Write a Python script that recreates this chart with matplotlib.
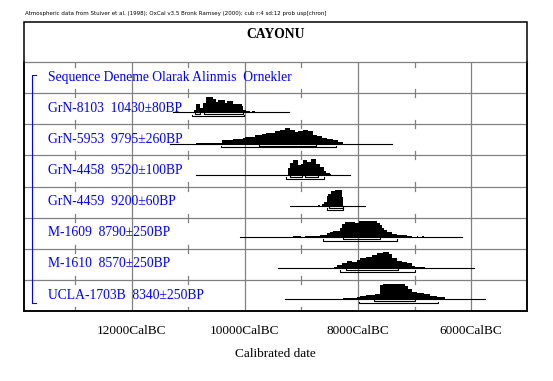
import numpy as np
import matplotlib
matplotlib.use('Agg')
import matplotlib.pyplot as plt
from matplotlib.patches import Rectangle
import matplotlib.transforms as mtransforms

# sample labels, top row first
header = 'Sequence Deneme Olarak Alinmis  Ornekler'
labels = ['GrN-8103  10430\u00b180BP', 'GrN-5953  9795\u00b1260BP',
          'GrN-4458  9520\u00b1100BP', 'GrN-4459  9200\u00b160BP',
          'M-1609  8790\u00b1250BP', 'M-1610  8570\u00b1250BP',
          'UCLA-1703B  8340\u00b1250BP']

# calibrated probability (step edges in years BC, relative heights)
grn8103_years = [10900, 10870, 10800, 10740, 10690, 10560, 10510, 10470, 10350,
                 10310, 10210, 10120, 10060, 10030, 9980, 9910, 9880, 9820]
grn8103_prob = [2, 7.7, 4.3, 9, 15, 12.7, 10, 11.7, 9.3, 10.7, 7.7, 8.3, 6,
                2.7, 1.7, 0, 1]

grn5953_years = [10870, 10400, 10210, 10030, 10000, 9820, 9700, 9620, 9470, 9380,
                 9290, 9200, 9120, 9060, 8970, 8880, 8790, 8730, 8640, 8550,
                 8440, 8350, 8260]
grn5953_prob = [1, 3.3, 4.3, 6, 6.5, 8.3, 10, 11.3, 13, 14.3, 16, 14.3, 11.7,
                12.7, 13.7, 12.7, 9.3, 7.7, 6, 4.3, 3.3, 2]

grn4458_years = [9230, 9200, 9150, 9060, 9010, 8970, 8900, 8840, 8740, 8670,
                 8610, 8570, 8500, 8470]
grn4458_prob = [6.7, 11, 14.3, 9, 10, 14.5, 12, 15, 10, 7, 4, 2, 1]

grn4459_years = [8700, 8670, 8640, 8610, 8550, 8530, 8470, 8410, 8290, 8270]
grn4459_prob = [1, 0, 2, 4, 9, 11, 14, 15, 8]

m1609_years = [9150, 9000, 8940, 8670, 8640, 8550, 8500, 8440, 8320, 8290, 8230,
               8050, 7990, 7670, 7610, 7580, 7540, 7490, 7400, 7310, 7230,
               7140, 7050, 6960, 6930, 6870, 6840]
m1609_prob = [1, 0.3, 1, 1.5, 2.3, 4, 5, 6, 9, 14, 15.3, 14.5, 16.3, 15, 12, 9,
              7, 5, 3.5, 2.5, 2, 1, 0, 1, 0, 0.7]

m1610_years = [8420, 8380, 8290, 8200, 8110, 8020, 7960, 7850, 7760, 7670, 7550,
               7460, 7400, 7310, 7230, 7140, 7050, 6990, 6810]
m1610_prob = [1, 3, 5, 7.3, 5.7, 8, 10.3, 11.3, 13, 14.7, 15.3, 13.7, 10.3, 7,
              6, 4.7, 2.3, 1]

ucla1703b_years = [8260, 8020, 7960, 7850, 7700, 7610, 7550, 7490, 7260, 7170,
                   7110, 7050, 6960, 6840, 6730, 6610, 6460]
ucla1703b_prob = [1.5, 2, 3.3, 4, 5, 14, 15.3, 15.7, 15.3, 13.3, 10, 7.3, 6.3,
                  5, 3.3, 1.7]

dist_years = [grn8103_years, grn5953_years, grn4458_years, grn4459_years,
              m1609_years, m1610_years, ucla1703b_years]
dist_prob = [grn8103_prob, grn5953_prob, grn4458_prob, grn4459_prob,
             m1609_prob, m1610_prob, ucla1703b_prob]

# base line extent, 95.4% and 68.2% ranges
base_span = [(11270, 9220), (11330, 7400), (10870, 8140), (9200, 7880),
             (10090, 6160), (9410, 5940), (9300, 5750)]
range95 = [[(10930, 10020)], [(10420, 8390)], [(9270, 8610)], [(8550, 8270)],
           [(8620, 7310)], [(8320, 6990)], [(7990, 6590)]]
range68 = [[(10890, 10800), (10720, 10030)], [(9760, 8740)],
           [(9200, 8990), (8940, 8710)], [(8510, 8270)], [(8260, 7610)],
           [(8210, 7300)], [(7720, 6990)]]

major = [12000, 10000, 8000, 6000]
minor = [13000, 11000, 9000, 7000]

W, H = 553, 381
fig = plt.figure(figsize=(W / 100, H / 100), dpi=100)
ax = fig.add_axes([24 / W, 70 / H, 503 / W, 249 / H])
nrows = len(labels) + 1
ax.set_xlim(13910, 5010)
ax.set_ylim(0, nrows)

grey = '#808080'
serif = 'Liberation Serif'

# grid
for yr in major:
    ax.axvline(yr, color=grey, lw=0.9, zorder=1)
for r in range(1, nrows):
    ax.axhline(r, color=grey, lw=0.9, zorder=1)
for yr in minor:
    for r in range(1, nrows):
        ax.plot([yr, yr], [r - 0.13, r + 0.13], color=grey, lw=0.9, zorder=1)
    ax.plot([yr, yr], [nrows, nrows - 0.16], color=grey, lw=0.9, zorder=1)
    ax.plot([yr, yr], [0, 0.13], color=grey, lw=0.9, zorder=1)

# distributions
trans_lab = mtransforms.blended_transform_factory(ax.transAxes, ax.transData)
for i in range(len(labels)):
    bottom = nrows - 2 - i
    base = bottom + 0.38
    yrs = np.array(dist_years[i], dtype=float)
    p = np.array(dist_prob[i] + [0], dtype=float)
    p = p / p.max() * 0.5
    ax.fill_between(yrs, base, base + p, step='post', color='black', lw=0,
                    zorder=3)
    ax.plot(base_span[i], [base, base], color='black', lw=0.8, zorder=3)
    for lo, hi in range68[i]:
        yy = base - 0.065
        ax.plot([lo, lo, hi, hi], [yy + 0.05, yy, yy, yy + 0.05],
                color='black', lw=0.8, zorder=3)
    for lo, hi in range95[i]:
        yy = base - 0.125
        ax.plot([lo, lo, hi, hi], [yy + 0.05, yy, yy, yy + 0.05],
                color='black', lw=0.8, zorder=3)
    ax.text(0.048, bottom + 0.40, labels[i], transform=trans_lab,
            color='blue', fontsize=9.8, family=serif, va='baseline')

ax.text(0.048, nrows - 1 + 0.40, header, transform=trans_lab,
        color='blue', fontsize=9.8, family=serif, va='baseline')

# blue sequence bracket
ax.plot([0.024, 0.0153, 0.0153, 0.024], [7.58, 7.58, 0.27, 0.27],
        color='blue', lw=0.8, transform=trans_lab, clip_on=False)

# axes frame
for s in ['left', 'right', 'bottom']:
    ax.spines[s].set_color('black')
    ax.spines[s].set_linewidth(1.1)
ax.spines['top'].set_color(grey)
ax.spines['top'].set_linewidth(0.9)
ax.set_yticks([])
ax.set_xticks(major)
ax.set_xticklabels(['%dCalBC' % m for m in major], family=serif, fontsize=9.5)
ax.tick_params(axis='x', length=0, pad=10)
ax.set_xlabel('Calibrated date', family=serif, fontsize=9.5, labelpad=8)

# outer box with title
fig.add_artist(Rectangle((24 / W, 70 / H), 503 / W, 289 / H, fill=False,
                         edgecolor='black', lw=1.1,
                         transform=fig.transFigure))
fig.text(276 / W, 1 - 38.5 / H, 'CAYONU', ha='center', va='baseline',
         family=serif, fontsize=9.8, fontweight='bold')
fig.text(25 / W, 1 - 14 / H,
         'Atmospheric data from Stuiver et al. (1998); OxCal v3.5 Bronk Ramsey '
         '(2000); cub r:4 sd:12 prob usp[chron]',
         ha='left', va='center', fontsize=4.0, family='DejaVu Sans')

fig.savefig('out.png', dpi=100)
